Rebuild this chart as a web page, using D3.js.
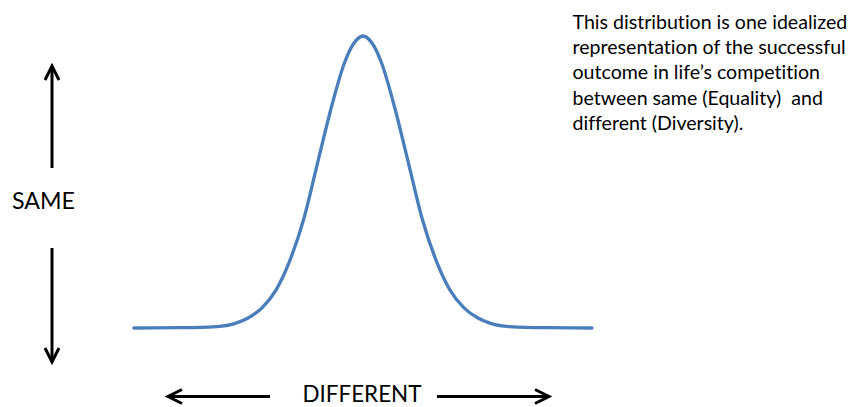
<!DOCTYPE html>
<html>
<head>
<meta charset="utf-8">
<script src="https://cdn.jsdelivr.net/npm/d3@7"></script>
<style>
  html, body { margin: 0; padding: 0; background: #fff; }
  svg { display: block; }
  text { font-family: Lato, "Open Sans", sans-serif; fill: #000; white-space: pre;
         font-variant-ligatures: none; font-feature-settings: "liga" 0, "clig" 0; }
</style>
</head>
<body>
<script>
// ---- data ----
const diffValues = [0, 10, 18, 22, 25, 28, 31, 34, 37, 40, 43, 46, 48, 50, 52, 54, 57, 60, 63, 66, 69, 72, 75, 78, 82, 90, 100];
const sameValues = [0, 0.1, 0.5, 1.5, 3.5, 7, 13, 23, 37, 56, 75, 91, 97.5, 100, 97.5, 91, 75, 56, 37, 23, 13, 7, 3.5, 1.5, 0.5, 0.1, 0];
const yAxisLabel = "SAME";
const xAxisLabel = "DIFFERENT";
const noteLines = [
  "This distribution is one idealized",
  "representation of the successful",
  "outcome in life\u2019s competition",
  "between same (Equality)  and",
  "different (Diversity)."
];

// ---- layout ----
const W = 855, H = 407;
const svg = d3.select("body").append("svg").attr("width", W).attr("height", H);

const x = d3.scaleLinear().domain([0, 100]).range([134, 592]);
const y = d3.scaleLinear().domain([0, 100]).range([328, 36]);

const pts = diffValues.map((d, i) => [d, sameValues[i]]);
const line = d3.line().x(d => x(d[0])).y(d => y(d[1])).curve(d3.curveMonotoneX);

svg.append("path")
  .datum(pts)
  .attr("d", line)
  .attr("fill", "none")
  .attr("stroke", "#4a7ebb")
  .attr("stroke-width", 3.3)
  .attr("stroke-linejoin", "round")
  .attr("stroke-linecap", "round");

// arrows
const arrowG = svg.append("g").attr("stroke", "#000").attr("stroke-width", 3).attr("fill", "none")
  .attr("stroke-linejoin", "miter");
function arrow(x1, y1, x2, y2) {
  arrowG.append("line").attr("x1", x1).attr("y1", y1).attr("x2", x2).attr("y2", y2);
  const ang = Math.atan2(y2 - y1, x2 - x1);
  const L = 14, hw = 7;
  const bx = x2 - L * Math.cos(ang), by = y2 - L * Math.sin(ang);
  const px = -Math.sin(ang) * hw, py = Math.cos(ang) * hw;
  arrowG.append("path").attr("d", `M${bx + px},${by + py}L${x2},${y2}L${bx - px},${by - py}`);
}
arrow(52, 168, 52, 66);
arrow(52, 248, 52, 362);
arrow(270, 396.5, 168, 396.5);
arrow(437, 396.5, 549, 396.5);

function fit(sel, target) {
  let fs = 20;
  sel.attr("font-size", fs);
  const w = sel.node().getComputedTextLength();
  fs = fs * target / w;
  sel.attr("font-size", fs);
  return fs;
}

const same = svg.append("text").attr("x", 12).attr("y", 208.5).text(yAxisLabel);
fit(same, 63);
const diff = svg.append("text").attr("x", 302.5).attr("y", 402).text(xAxisLabel);
fit(diff, 119);

const note = svg.append("g");
const first = note.append("text").attr("x", 572.5).attr("y", 28.5).text(noteLines[0]);
const fs = fit(first, 275);
noteLines.slice(1).forEach((t, i) => {
  note.append("text").attr("x", 572.5).attr("y", 28.5 + (i + 1) * 25.4).attr("font-size", fs).text(t);
});
</script>
</body>
</html>
